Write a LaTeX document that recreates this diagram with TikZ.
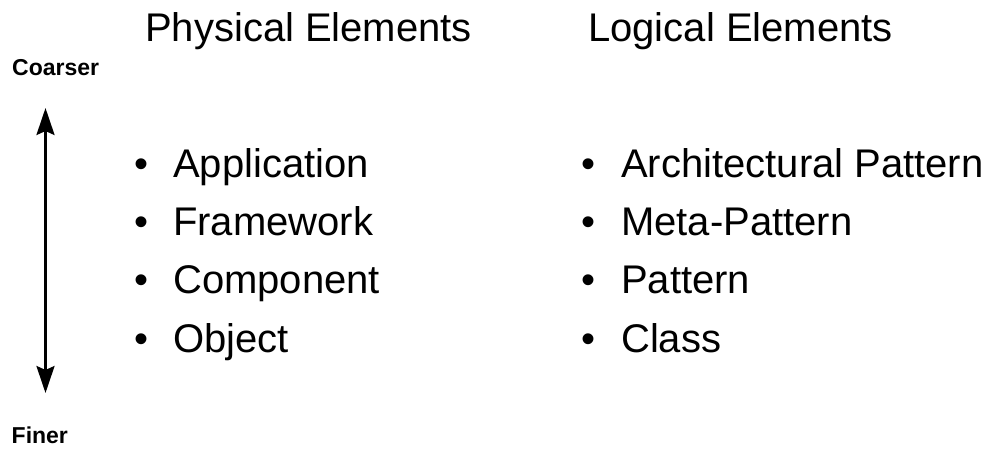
\documentclass[tikz,border=0pt]{standalone}
\usepackage{fontspec}
\setmainfont{Liberation Sans}
\usetikzlibrary{arrows.meta}
\begin{document}
\begin{tikzpicture}[x=1pt,y=-1pt,
  heading/.style={anchor=base west,inner sep=0pt,font=\fontsize{40}{44}\selectfont},
  itemtext/.style={anchor=base west,inner sep=0pt,font=\fontsize{40}{44}\selectfont},
  bulletmark/.style={anchor=base,inner sep=0pt,font=\fontsize{40}{44}\selectfont},
  scalelabel/.style={anchor=base west,inner sep=0pt,font=\fontsize{23}{26}\selectfont\bfseries},
  scalearrow/.style={line width=2.6pt,{Stealth[length=27pt,width=18pt,inset=4pt]}-{Stealth[length=27pt,width=18pt,inset=4pt]}}]
\useasboundingbox (0,0) rectangle (997,448);

% column headings
\node[heading] (phys) at (145,41) {Physical Elements};
\node[heading] (logi) at (588,41) {Logical Elements};

% granularity scale
\node[scalelabel] (coarser) at (12,75) {Coarser};
\node[scalelabel] (finer) at (11.5,443) {Finer};
\coordinate (top) at (45.5,108);
\coordinate (bottom) at (45.5,393);
\draw[scalearrow] (bottom) -- (top);

% physical elements
\foreach \name/\txt/\yy in {app/Application/177, fw/Framework/235.3, comp/Component/293.7, obj/Object/352}{
  \node[bulletmark] (b\name) at (142,\yy) {•};
  \node[itemtext] (\name) at (173,\yy) {\txt};
}

% logical elements
\foreach \name/\txt/\yy in {arch/Architectural Pattern/177, meta/Meta-Pattern/235.3, pat/Pattern/293.7, cls/Class/352}{
  \node[bulletmark] (b\name) at (588.5,\yy) {•};
  \node[itemtext] (\name) at (621,\yy) {\txt};
}
\end{tikzpicture}
\end{document}
